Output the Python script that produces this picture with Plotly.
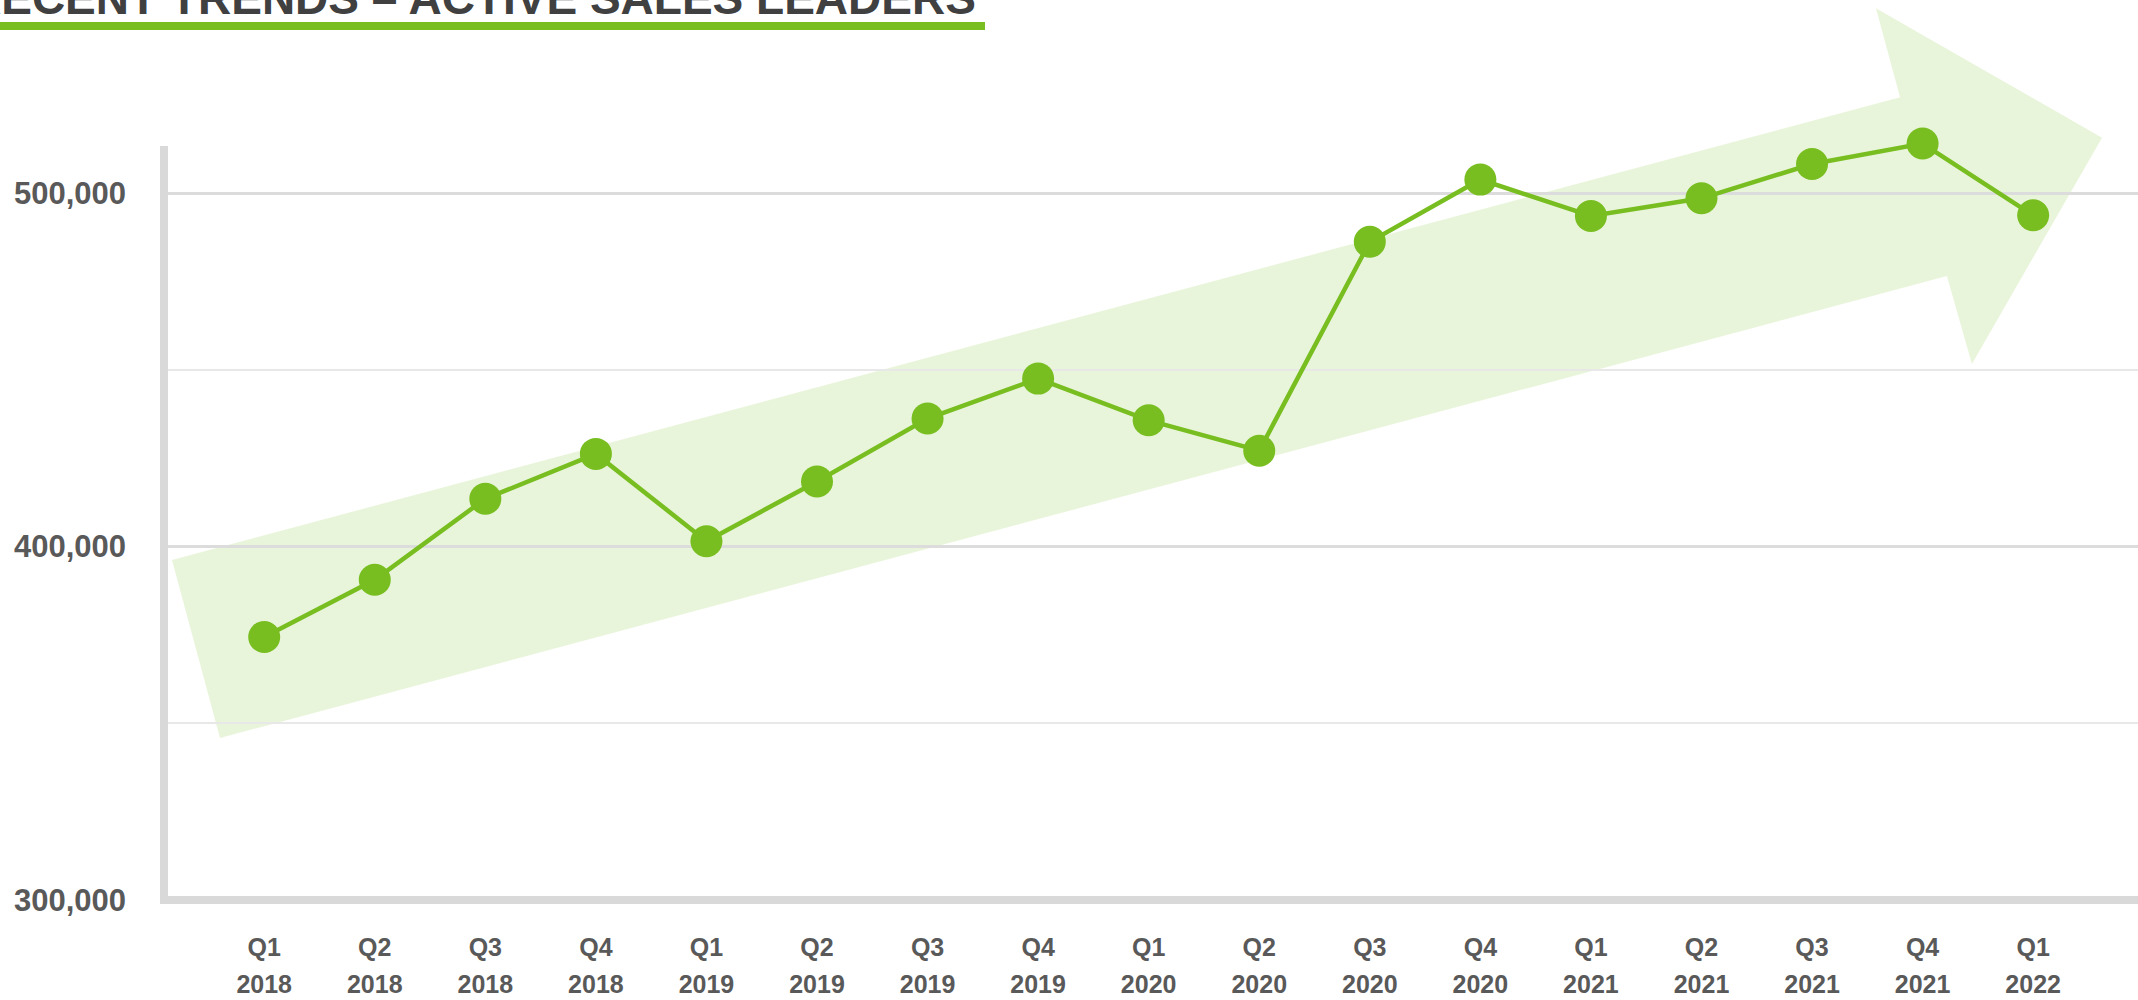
import plotly.graph_objects as go

# ---- data ----
quarters = ["Q1", "Q2", "Q3", "Q4", "Q1", "Q2", "Q3", "Q4", "Q1", "Q2",
            "Q3", "Q4", "Q1", "Q2", "Q3", "Q4", "Q1"]
years = ["2018", "2018", "2018", "2018", "2019", "2019", "2019", "2019",
         "2020", "2020", "2020", "2020", "2021", "2021", "2021", "2021", "2022"]
active_sales_leaders = [374400, 390600, 413500, 426200, 401500, 418400,
                        436200, 447500, 435700, 427100, 486200, 503800,
                        493500, 498500, 508200, 514000, 493700]
y_tick_values = [300000, 400000, 500000]
y_tick_labels = ["300,000", "400,000", "500,000"]
y_minor_grid = [350000, 450000]
title_text = "RECENT TRENDS \u2013 ACTIVE SALES LEADERS"

x_idx = list(range(len(quarters)))

GREEN = "#78be20"
AXIS_GREY = "#d9d9d9"
LABEL_GREY = "#595959"
FONT = "Liberation Sans, Arial, sans-serif"

W, H = 2138, 1000
ML, MB = 164, 100
PW, PH = W - ML, H - MB
X0_PX, X_STEP = 264.2, 110.56
X_RANGE = [(ML - X0_PX) / X_STEP, (W - X0_PX) / X_STEP]

fig = go.Figure()

# decorative trend arrow (drawn in axis coordinates)
arrow = [(-0.834, 396181), (14.796, 527072), (14.578, 552249), (16.623, 515643),
         (15.446, 451627), (15.220, 476520), (-0.400, 345827)]
path = "M " + " L ".join(f"{x},{y}" for x, y in arrow) + " Z"
fig.add_shape(type="path", path=path, xref="x", yref="y", layer="below",
              fillcolor="rgba(120,190,32,0.16)", line=dict(width=0))

fig.add_trace(go.Scatter(
    x=x_idx, y=active_sales_leaders, mode="lines+markers",
    line=dict(color=GREEN, width=4.5),
    marker=dict(color=GREEN, size=32),
    hoverinfo="skip", showlegend=False, cliponaxis=False,
))
# carrier trace for the year row of the category axis
fig.add_trace(go.Scatter(
    x=x_idx, y=active_sales_leaders, mode="none", xaxis="x2",
    hoverinfo="skip", showlegend=False,
))

# axis lines (thick light grey)
fig.add_shape(type="line", xref="paper", yref="paper",
              x0=0, x1=0, y0=-4 / PH, y1=(PH - 146) / PH,
              line=dict(color=AXIS_GREY, width=8), layer="above")
fig.add_shape(type="line", xref="paper", yref="paper",
              x0=-4 / PW, x1=1.0, y0=0, y1=0,
              line=dict(color=AXIS_GREY, width=8), layer="above")

# title underline
fig.add_shape(type="rect", xref="paper", yref="paper",
              x0=(0 - ML) / PW, x1=(985 - ML) / PW,
              y0=(PH - 30) / PH, y1=(PH - 22) / PH,
              fillcolor=GREEN, line=dict(width=0))

# title (partly cropped at top of the page, as in the reference)
fig.add_annotation(text=f"<b>{title_text}</b>", xref="paper", yref="paper",
                   x=(-34 - ML) / PW, y=(PH + 2) / PH, xanchor="left", yanchor="middle",
                   showarrow=False, font=dict(family=FONT, size=46, color="#404040"))

tick_font_x = dict(family=FONT, size=25, color=LABEL_GREY, weight="bold")

fig.update_layout(
    width=W, height=H,
    margin=dict(l=ML, r=0, t=0, b=MB, pad=0),
    paper_bgcolor="white", plot_bgcolor="white",
    font=dict(family=FONT, color=LABEL_GREY),
    showlegend=False,
    xaxis=dict(
        range=X_RANGE, tickmode="array", tickvals=x_idx, ticktext=quarters,
        showgrid=False, zeroline=False, showline=False, ticks="",
        tickfont=tick_font_x, ticklabelstandoff=30,
    ),
    xaxis2=dict(
        range=X_RANGE, tickmode="array", tickvals=x_idx, ticktext=years,
        overlaying="x", anchor="y", side="bottom",
        showgrid=False, zeroline=False, showline=False, ticks="",
        tickfont=tick_font_x, ticklabelstandoff=67,
    ),
    yaxis=dict(
        range=[300000, 300000 + PH / 3.535 * 1000],
        tickmode="array", tickvals=y_tick_values, ticktext=y_tick_labels,
        showgrid=True, gridcolor="#dcdcdc", gridwidth=2.5,
        minor=dict(tickmode="array", tickvals=y_minor_grid, showgrid=True,
                   gridcolor="#e8e8e8", gridwidth=2),
        zeroline=False, showline=False, ticks="",
        tickfont=dict(family=FONT, size=31, color=LABEL_GREY, weight="bold"),
        ticklabelstandoff=37,
    ),
)

fig.write_html("out.html", config={"displayModeBar": False},
               post_script="document.body.style.margin='0';document.body.style.overflow='hidden';")
